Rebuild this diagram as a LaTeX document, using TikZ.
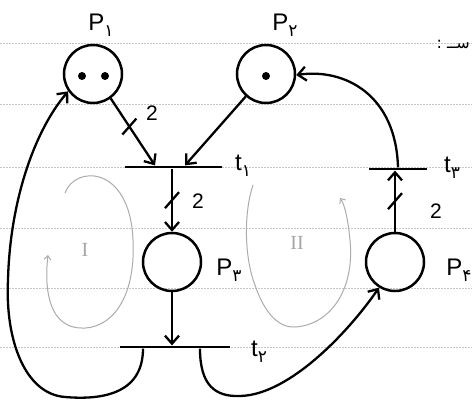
\documentclass[tikz,border=0pt]{standalone}
\usepackage{fontspec}
\setmainfont{Liberation Sans}
\newfontfamily\arabicfont[Script=Arabic]{DejaVu Sans}
\newfontfamily\romanfont{Liberation Serif}
\TeXXeTstate=1
\usetikzlibrary{arrows.meta,calc}
\begin{document}
\begin{tikzpicture}[x=1pt,y=-1pt,
  place/.style={circle,draw,line width=2.5pt,minimum size=58pt,inner sep=0},
  trans/.style={rectangle,fill=black,minimum height=2.8pt,inner sep=0},
  arc/.style={line width=2.3pt,-{Straight Barb[length=8pt,width=14pt,line width=2.3pt]}},
  slash/.style={line width=2.3pt},
  token/.style={circle,fill=black,minimum size=8pt,inner sep=0},
  lbl/.style={font=\fontsize{24}{26}\selectfont},
  sub/.style={},
  wgt/.style={font=\fontsize{21}{22}\selectfont},
  loopline/.style={gray!65,line width=1pt,-{Straight Barb[length=4pt,width=7pt,line width=1pt]}},
  roman/.style={gray!70,font=\fontsize{20}{22}\selectfont\romanfont},
  paperline/.style={gray!45,line width=0.6pt,dash pattern=on 1.5pt off 1.5pt}]
\useasboundingbox (0,0) rectangle (472,401);
\fill[white] (0,0) rectangle (472,401);
\foreach \yy in {43,104,167,228,288,347} \draw[paperline] (0,\yy) -- (472,\yy);

% places
\node[place] (p1) at (93,74) {};
\node[place] (p2) at (266,74) {};
\node[place] (p3) at (172,262) {};
\node[place] (p4) at (395,262) {};
% tokens
\node[token] (k1) at (82,76) {};
\node[token] (k2) at (105,76) {};
\node[token] (k3) at (266,76) {};
% transitions
\node[trans,minimum width=97pt] (t1) at (173,167) {};
\node[trans,minimum width=110pt] (t2) at (175,347) {};
\node[trans,minimum width=58pt] (t3) at (398,169) {};

% labels
\newcommand{\fasub}[1]{\raisebox{-6pt}{\fontsize{17}{17}\selectfont\arabicfont #1}}
\node[lbl] (lp1) at (101,25) {P\fasub{۱}};
\node[lbl] (lp2) at (285,25) {P\fasub{۲}};
\node[lbl] (lp3) at (229,270) {P\fasub{۳}};
\node[lbl] (lp4) at (459,270) {P\fasub{۴}};
\node[lbl] (lt1) at (243,166) {t\fasub{۱}};
\node[lbl] (lt2) at (259,352) {t\fasub{۲}};
\node[lbl] (lt3) at (452,168) {t\fasub{۳}};

% arcs
\draw[arc] (p1.-54) -- coordinate[pos=0.42] (s1) ([xshift=-18pt]t1.north);
\draw[slash] ($(s1)+(-7,8)$) -- ($(s1)+(7,-8)$);
\node[wgt] (w1) at (152,113) {2};

\draw[arc] (p2.-132) -- ([xshift=12pt]t1.north);

\draw[arc] (t1.south -| p3.north) -- coordinate[pos=0.5] (s2) (p3.north);
\draw[slash] ($(s2)+(-7,8)$) -- ($(s2)+(7,-8)$);
\node[wgt] (w2) at (198,201) {2};

\draw[arc] (p3.south) -- (p3.south |- t2.north);

\draw[arc] ([xshift=-32pt]t2.south) .. controls (143,395) and (100,400) .. (65,397)
  .. controls (25,394) and (5,340) .. (8,280)
  .. controls (10,200) and (35,130) .. (p1.-145);

\draw[arc] ([xshift=25pt]t2.south) .. controls (200,385) and (215,397) .. (240,396)
  .. controls (290,395) and (350,330) .. (p4.-122);

\draw[arc] (p4.north) -- coordinate[pos=0.5] (s3) (p4.north |- t3.south);
\draw[slash] ($(s3)+(-7,8)$) -- ($(s3)+(7,-8)$);
\node[wgt] (w3) at (436,211) {2};

\draw[arc] (t3.north) .. controls (396,95) and (345,68) .. (p2.-2);

% gray cycle annotations
\draw[loopline] (65,193) .. controls (75,165) and (130,165) .. (133,240)
  .. controls (136,300) and (110,330) .. (80,328)
  .. controls (45,326) and (45,280) .. (48,255);
\node[roman] (r1) at (85,250) {I};
\draw[loopline] (253,185) .. controls (243,215) and (245,260) .. (255,285)
  .. controls (265,315) and (280,328) .. (295,327)
  .. controls (330,325) and (355,290) .. (350,240)
  .. controls (348,220) and (345,205) .. (340,198);
\node[roman] (r2) at (297,243) {II};

% note fragment at top right
\node[anchor=east,font=\fontsize{16}{18}\selectfont\arabicfont,inner sep=1pt] (note) at (471,44) {\beginR ســ :\endR};
\end{tikzpicture}
\end{document}
